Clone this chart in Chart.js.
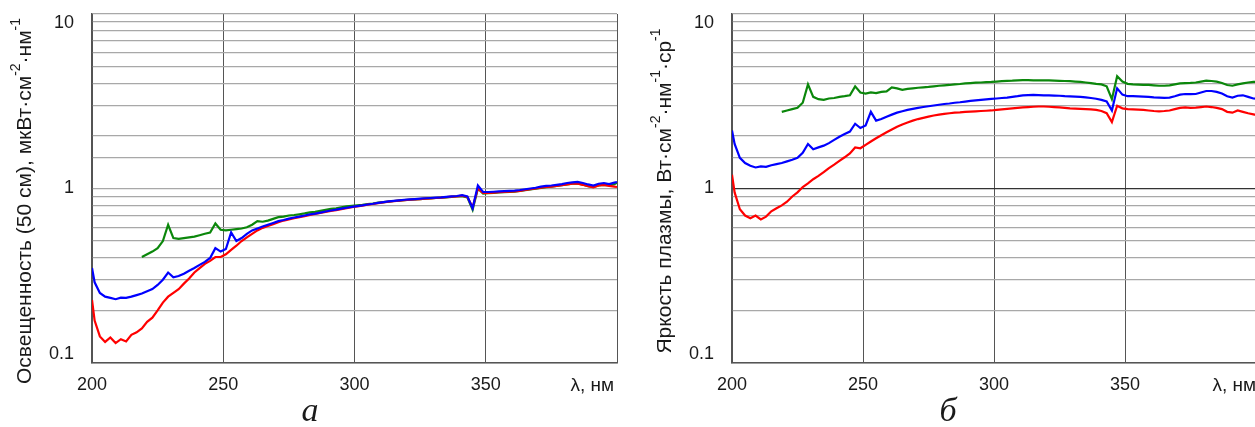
<!DOCTYPE html>
<html>
<head>
<meta charset="utf-8">
<script src="https://cdn.jsdelivr.net/npm/chart.js@4"></script>
<style>
  html, body { margin: 0; padding: 0; background: #fff; overflow: hidden; }
  .panel { position: absolute; top: 0; height: 427px; }
  #boxA { left: 0; width: 627px; }
  #boxB { left: 640px; width: 616px; }
</style>
</head>
<body>
<div id="boxA" class="panel"><canvas id="chartA"></canvas></div>
<div id="boxB" class="panel"><canvas id="chartB"></canvas></div>
<script>
// wavelength grid, nm
const lam = [200, 201, 203, 205, 207, 209, 211, 213, 215, 217,
  219, 221, 223, 225, 227, 229, 231, 233, 235, 237,
  239, 241, 243, 245, 247, 249, 251, 253, 255, 257,
  259, 261, 263, 265, 267, 269, 271, 273, 275, 277,
  279, 281, 283, 285, 287, 289, 291, 293, 295, 297,
  299, 301, 303, 305, 307, 309, 311, 313, 315, 317,
  319, 321, 323, 325, 327, 329, 331, 333, 335, 337,
  339, 341, 343, 345, 347, 349, 351, 353, 355, 357,
  359, 361, 363, 365, 367, 369, 371, 373, 375, 377,
  379, 381, 383, 385, 387, 389, 391, 393, 395, 397,
  399, 400];

// panel a - irradiance at 50 cm
const redA = [0.23, 0.175, 0.142, 0.132, 0.14, 0.13, 0.137, 0.133, 0.145, 0.15,
  0.158, 0.172, 0.182, 0.2, 0.222, 0.24, 0.252, 0.265, 0.285, 0.305,
  0.33, 0.35, 0.37, 0.385, 0.405, 0.405, 0.42, 0.445, 0.47, 0.5,
  0.525, 0.55, 0.575, 0.595, 0.61, 0.625, 0.64, 0.655, 0.665, 0.675,
  0.685, 0.695, 0.705, 0.715, 0.725, 0.735, 0.745, 0.752, 0.762, 0.772,
  0.782, 0.79, 0.798, 0.808, 0.815, 0.825, 0.832, 0.84, 0.846, 0.852,
  0.858, 0.862, 0.866, 0.87, 0.875, 0.878, 0.882, 0.886, 0.892, 0.898,
  0.902, 0.91, 0.895, 0.78, 1.0, 0.945, 0.945, 0.948, 0.952, 0.955,
  0.958, 0.962, 0.97, 0.98, 0.99, 1.0, 1.01, 1.02, 1.025, 1.035,
  1.045, 1.055, 1.065, 1.065, 1.05, 1.03, 1.015, 1.04, 1.05, 1.035,
  1.025, 1.02];
const blueA = [0.35, 0.29, 0.252, 0.24, 0.236, 0.232, 0.237, 0.236, 0.24, 0.245,
  0.25, 0.258, 0.265, 0.28, 0.3, 0.33, 0.31, 0.315, 0.325, 0.338,
  0.35, 0.365, 0.38, 0.4, 0.455, 0.435, 0.45, 0.56, 0.5, 0.52,
  0.55, 0.575, 0.59, 0.605, 0.62, 0.635, 0.65, 0.66, 0.672, 0.682,
  0.69, 0.7, 0.71, 0.718, 0.728, 0.738, 0.748, 0.756, 0.766, 0.776,
  0.785, 0.792, 0.8, 0.81, 0.818, 0.828, 0.835, 0.843, 0.85, 0.856,
  0.862, 0.866, 0.87, 0.874, 0.879, 0.882, 0.886, 0.89, 0.896, 0.902,
  0.906, 0.915, 0.9, 0.77, 1.04, 0.955, 0.955, 0.958, 0.962, 0.965,
  0.968, 0.972, 0.98, 0.99, 1.0, 1.01, 1.025, 1.035, 1.04, 1.05,
  1.06, 1.075, 1.085, 1.09, 1.075, 1.055, 1.04, 1.065, 1.075, 1.06,
  1.08, 1.09];
const greenA = [null, null, null, null, null, null, null, null, null, null,
  0.405, 0.42, 0.435, 0.455, 0.5, 0.62, 0.52, 0.515, 0.52, 0.525,
  0.53, 0.54, 0.55, 0.56, 0.63, 0.58, 0.575, 0.58, 0.585, 0.59,
  0.6, 0.62, 0.65, 0.645, 0.655, 0.67, 0.685, 0.69, 0.7, 0.705,
  0.712, 0.72, 0.73, 0.735, 0.745, 0.755, 0.765, 0.77, 0.78, 0.79,
  0.795, 0.8, 0.806, 0.814, 0.82, 0.83, 0.835, 0.842, 0.848, 0.853,
  0.858, 0.862, 0.866, 0.87, 0.874, 0.878, 0.882, 0.886, 0.89, 0.895,
  0.9, 0.905, 0.89, 0.755, 1.0, 0.935, 0.94, 0.945, 0.95, 0.952,
  0.955, 0.96, 0.968, 0.978, 0.988, 0.998, 1.008, 1.018, 1.025, 1.035,
  1.045, 1.055, 1.065, 1.068, 1.05, 1.03, 1.02, 1.04, 1.05, 1.045,
  1.06, 1.08];

// panel b - plasma radiance
const redB = [1.2, 0.95, 0.76, 0.7, 0.675, 0.7, 0.665, 0.69, 0.74, 0.77,
  0.8, 0.84, 0.9, 0.95, 1.02, 1.07, 1.13, 1.18, 1.24, 1.31,
  1.37, 1.44, 1.51, 1.59, 1.72, 1.7, 1.78, 1.86, 1.94, 2.02,
  2.1, 2.18, 2.26, 2.33, 2.39, 2.45, 2.5, 2.54, 2.58, 2.62,
  2.65, 2.68, 2.7, 2.72, 2.73, 2.75, 2.76, 2.77, 2.78, 2.79,
  2.8, 2.82, 2.84, 2.86, 2.88, 2.9, 2.92, 2.93, 2.94, 2.95,
  2.95, 2.94, 2.93, 2.92, 2.9, 2.88, 2.87, 2.86, 2.85, 2.84,
  2.82, 2.78, 2.7, 2.4, 2.98, 2.88, 2.85, 2.84, 2.83, 2.82,
  2.8, 2.78, 2.77, 2.78, 2.8, 2.85, 2.9, 2.92, 2.9, 2.91,
  2.93, 2.95, 2.93, 2.9, 2.85, 2.75, 2.72, 2.8, 2.75, 2.7,
  2.66, 2.64];
const blueB = [2.15, 1.8, 1.5, 1.4, 1.35, 1.32, 1.34, 1.33, 1.36, 1.38,
  1.4, 1.43, 1.46, 1.5, 1.6, 1.8, 1.68, 1.72, 1.76, 1.82,
  1.9, 1.98, 2.05, 2.12, 2.35, 2.22, 2.3, 2.75, 2.45, 2.5,
  2.58, 2.65, 2.72, 2.77, 2.82, 2.86, 2.9, 2.93, 2.96, 2.99,
  3.02, 3.05, 3.07, 3.1, 3.12, 3.15, 3.18, 3.2, 3.22, 3.24,
  3.26, 3.28, 3.3, 3.32, 3.35, 3.38, 3.42, 3.43, 3.44, 3.43,
  3.42, 3.42, 3.41, 3.4, 3.38, 3.37, 3.36, 3.35, 3.33, 3.3,
  3.27, 3.22, 3.15, 2.8, 3.75, 3.45, 3.38, 3.38, 3.37, 3.36,
  3.35, 3.33, 3.32, 3.31, 3.32, 3.38, 3.45, 3.48, 3.47, 3.48,
  3.55, 3.62, 3.62, 3.58, 3.5, 3.38, 3.32, 3.4, 3.42, 3.35,
  3.28, 3.27];
const greenB = [null, null, null, null, null, null, null, null, null, null,
  2.75, 2.8, 2.85, 2.9, 3.1, 3.95, 3.35, 3.25, 3.22, 3.28,
  3.3, 3.35, 3.38, 3.42, 3.85, 3.55, 3.5, 3.55, 3.52, 3.58,
  3.6, 3.8, 3.75, 3.68, 3.72, 3.75, 3.78, 3.8, 3.82, 3.85,
  3.88, 3.9, 3.92, 3.95, 3.97, 4.0, 4.02, 4.04, 4.05, 4.07,
  4.08, 4.1, 4.12, 4.14, 4.15, 4.17, 4.18, 4.18, 4.17, 4.17,
  4.16, 4.16, 4.15, 4.14, 4.13, 4.12, 4.1, 4.08, 4.05, 4.02,
  3.98, 3.95, 3.85, 3.25, 4.4, 4.1, 3.98, 3.95, 3.94, 3.93,
  3.92, 3.9, 3.88, 3.88, 3.9, 3.95, 4.0, 4.02, 4.03, 4.05,
  4.1, 4.15, 4.13, 4.1, 4.02, 3.92, 3.88, 3.95, 4.0, 4.05,
  4.08, 4.08];

const xTicks = [200, 250, 300, 350];
// end labels are drawn by the plugin, nudged inside the plot like in the original
const yEndLabels = [[10, '10', 9], [0.1, '0.1', -9]];

const titleA = [['Освещенность (50 см), мкВт·см', false], ['-2', true], ['·нм', false], ['-1', true]];
const titleB = [['Яркость плазмы, Вт·см', false], ['-2', true], ['·нм', false], ['-1', true], ['·ср', false], ['-1', true]];

const FONT = '"Liberation Sans", Arial, sans-serif';

function pts(arr) {
    return lam.map((x, i) => ({ x: x, y: arr[i] }));
}

// draws the rotated y title (with superscripts), end tick labels, "λ, нм" and the panel letter
const decor = {
    id: 'decor',
    afterDraw(chart, args, opts) {
        const ctx = chart.ctx;
        const fs = opts.titleSize;
        const font = fs + 'px ' + FONT;
        const supFont = Math.round(fs * 0.66) + 'px ' + FONT;
        ctx.save();
        ctx.fillStyle = '#1a1a1a';
        let total = 0;
        opts.title.forEach(s => { ctx.font = s[1] ? supFont : font; total += ctx.measureText(s[0]).width; });
        ctx.translate(opts.titleX, opts.titleY);
        ctx.rotate(-Math.PI / 2);
        ctx.textBaseline = 'middle';
        ctx.textAlign = 'left';
        let pos = -total / 2;
        opts.title.forEach(s => {
            ctx.font = s[1] ? supFont : font;
            ctx.fillText(s[0], pos, s[1] ? -fs * 0.42 : 0);
            pos += ctx.measureText(s[0]).width;
        });
        ctx.restore();

        const yScale = chart.scales.y;
        ctx.save();
        ctx.fillStyle = '#1a1a1a';
        ctx.font = '18px ' + FONT;
        ctx.textAlign = 'right';
        ctx.textBaseline = 'middle';
        yEndLabels.forEach(l => {
            ctx.fillText(l[1], yScale.right - 18, yScale.getPixelForValue(l[0]) + l[2]);
        });
        ctx.font = '19px ' + FONT;
        ctx.fillText('λ, нм', opts.unitX, 386);
        ctx.font = 'italic 34px "Liberation Serif", "Times New Roman", serif';
        ctx.textAlign = 'center';
        ctx.textBaseline = 'alphabetic';
        ctx.fillText(opts.letter, opts.letterX, 421);
        ctx.restore();
    }
};

function createPanel(canvasId, red, blue, green, darkOne, decorOpts, padRight) {
    const ctx = document.getElementById(canvasId).getContext('2d');
    const data = {
        datasets: [
            { label: 'blue', data: pts(blue), borderColor: '#0000ff' },
            { label: 'red', data: pts(red), borderColor: '#ff0000' },
            { label: 'green', data: pts(green), borderColor: '#0b870b' }
        ]
    };
    data.datasets.forEach(d => { d.borderWidth = 2.2; d.pointRadius = 0; d.tension = 0; d.fill = false; });

    return new Chart(ctx, {
        type: 'line',
        data: data,
        options: {
            responsive: true,
            maintainAspectRatio: false,
            animation: false,
            layout: { padding: { top: 14, right: padRight, left: 0, bottom: 0 } },
            plugins: {
                legend: { display: false },
                tooltip: { enabled: false },
                decor: decorOpts
            },
            scales: {
                x: {
                    type: 'linear',
                    min: 200,
                    max: 400,
                    afterBuildTicks: s => { s.ticks = xTicks.concat([400]).map(v => ({ value: v })); },
                    ticks: {
                        color: '#1a1a1a',
                        font: { size: 18, family: FONT },
                        padding: 11,
                        maxRotation: 0,
                        callback: v => (xTicks.includes(v) ? String(v) : '')
                    },
                    grid: { color: '#555', lineWidth: 1, drawTicks: false },
                    border: { color: '#555', width: 1.5 },
                    afterFit: s => { s.height = 64; s.paddingLeft = 0; s.paddingRight = 0; }
                },
                y: {
                    type: 'logarithmic',
                    min: 0.1,
                    max: 10,
                    ticks: {
                        autoSkip: false,
                        color: '#1a1a1a',
                        font: { size: 18, family: FONT },
                        padding: 18,
                        callback: v => (Math.abs(Math.log10(v)) < 1e-6 ? '1' : '')
                    },
                    grid: {
                        drawTicks: false,
                        lineWidth: 1.3,
                        color: c => (darkOne && c.tick && Math.abs(c.tick.value - 1) < 1e-9) ? '#333' : '#a8a8a8'
                    },
                    border: { color: '#555', width: 1.5 },
                    afterFit: s => { s.width = 92; s.paddingTop = 0; s.paddingBottom = 0; }
                }
            }
        },
        plugins: [decor]
    });
}

document.addEventListener('DOMContentLoaded', function () {
    createPanel('chartA', redA, blueA, greenA, false,
        { title: titleA, titleSize: 21, titleX: 25, titleY: 201, unitX: 614, letter: 'а', letterX: 310 }, 10);
    createPanel('chartB', redB, blueB, greenB, true,
        { title: titleB, titleSize: 21, titleX: 25, titleY: 191, unitX: 616, letter: 'б', letterX: 308 }, 0);
});
</script>
</body>
</html>
